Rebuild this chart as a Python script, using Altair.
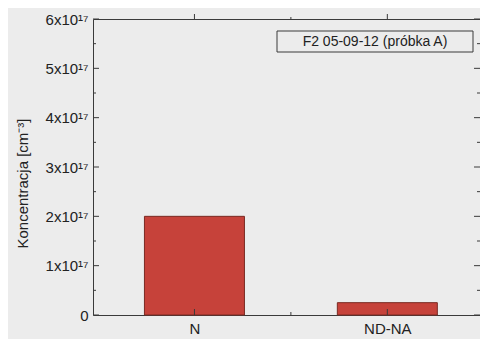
import altair as alt
import pandas as pd

categories = ["N", "ND-NA"]
positions = [1, 2]
values = [2.0e17, 2.5e16]
y_major = [0, 1e17, 2e17, 3e17, 4e17, 5e17, 6e17]
y_minor = [0.5e17, 1.5e17, 2.5e17, 3.5e17, 4.5e17, 5.5e17]
x_major = [1, 2]
x_minor = [1.5]
legend_text = "F2 05-09-12 (próbka A)"
y_title = "Koncentracja [cm⁻³]"

W, H = 387, 296
BG = "#ececec"
FRAME = "#3a3a3a"
FONT = "Liberation Sans"

bars_df = pd.DataFrame({"cat": categories, "pos": positions, "val": values})
ymaj_df = pd.DataFrame({"v": y_major})
ymin_df = pd.DataFrame({"v": y_minor})
xmaj_df = pd.DataFrame({"p": x_major})
xmin_df = pd.DataFrame({"p": x_minor})

xs = alt.Scale(domain=[0.5, 2.4545], nice=False, zero=False)
ys = alt.Scale(domain=[0, 6e17], nice=False)

label_expr = ("datum.value == 0 ? '0' : format(datum.value/1e17, 'd') + 'x10¹⁷'")

bars = alt.Chart(bars_df).mark_bar(
    color="#c6423a", stroke="#7a2a22", strokeWidth=1, size=100
).encode(
    x=alt.X("pos:Q", scale=xs, axis=alt.Axis(
        values=x_major, labelExpr="datum.value == 1 ? 'N' : 'ND-NA'",
        title=None, grid=False, ticks=False, domain=False,
        labelFont=FONT, labelFontSize=15, labelColor="#222", labelPadding=6)),
    y=alt.Y("val:Q", scale=ys, axis=alt.Axis(
        values=y_major, labelExpr=label_expr, title=y_title,
        titleFont=FONT, titleFontSize=15, titleFontWeight="normal",
        titleColor="#222", titlePadding=15, titleY=164,
        grid=False, ticks=False, domain=False,
        labelFont=FONT, labelFontSize=15, labelColor="#222", labelPadding=5)),
)

def yticks(df, length):
    left = alt.Chart(df).mark_rule(color=FRAME, strokeWidth=1).encode(
        y=alt.Y("v:Q", scale=ys), x=alt.value(0), x2=alt.value(length))
    right = alt.Chart(df).mark_rule(color=FRAME, strokeWidth=1).encode(
        y=alt.Y("v:Q", scale=ys), x=alt.value(W), x2=alt.value(W - length))
    return left + right

def xticks(df, length):
    bottom = alt.Chart(df).mark_rule(color=FRAME, strokeWidth=1).encode(
        x=alt.X("p:Q", scale=xs), y=alt.value(H), y2=alt.value(H - length))
    top = alt.Chart(df).mark_rule(color=FRAME, strokeWidth=1).encode(
        x=alt.X("p:Q", scale=xs), y=alt.value(0), y2=alt.value(-length + 1))
    return bottom + top

legend_df = pd.DataFrame({"t": [legend_text]})
legend_box = alt.Chart(legend_df).mark_rect(
    fill=None, stroke=FRAME, strokeWidth=1
).encode(x=alt.value(184), x2=alt.value(380), y=alt.value(12), y2=alt.value(33))
legend_lbl = alt.Chart(legend_df).mark_text(
    font=FONT, fontSize=14, color="#222", align="center", baseline="middle"
).encode(text="t:N", x=alt.value(282), y=alt.value(23))

chart = alt.layer(
    bars,
    yticks(ymaj_df, 6), yticks(ymin_df, 3),
    xticks(xmaj_df, 6), xticks(xmin_df, 3),
    legend_box, legend_lbl,
).properties(
    width=W, height=H, background=BG,
    autosize=alt.AutoSizeParams(type="none"),
    padding={"left": 85, "top": 11, "right": 0, "bottom": 24},
).configure_view(stroke=FRAME, strokeWidth=1)

chart.save("out.html", embed_options={"renderer": "svg", "actions": False})
